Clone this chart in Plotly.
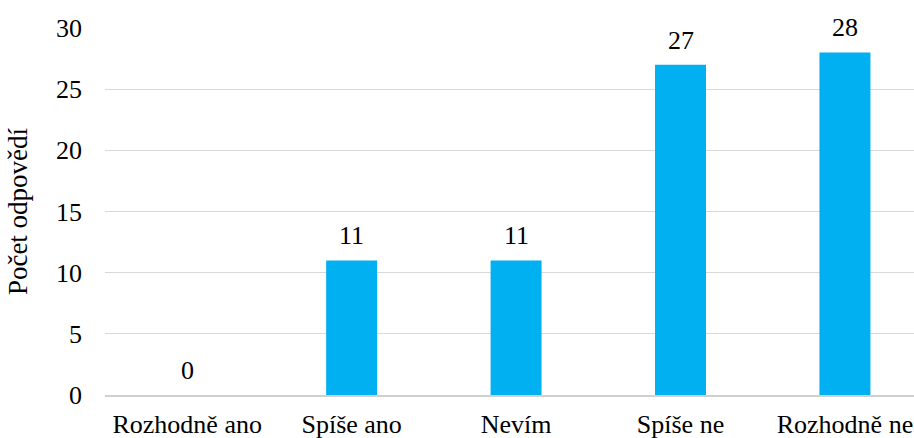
import plotly.graph_objects as go

# Survey answers and counts
categories = ["Rozhodně ano", "Spíše ano", "Nevím", "Spíše ne", "Rozhodně ne"]
counts = [0, 11, 11, 27, 28]
y_ticks = [0, 5, 10, 15, 20, 25, 30]
y_title = "Počet odpovědí"

FONT = "Times New Roman, Liberation Serif, serif"
BAR_COLOR = "#00B0F0"

fig = go.Figure(
    go.Bar(
        x=list(range(len(categories))),
        y=counts,
        width=0.31,
        marker=dict(color=BAR_COLOR, line=dict(width=0)),
        hoverinfo="skip",
    )
)

# Value labels above each bar
for i, v in enumerate(counts):
    fig.add_annotation(
        x=i, y=v, text=str(v), showarrow=False,
        yanchor="bottom", yshift=8,
        font=dict(family=FONT, size=26, color="#000000"),
    )

fig.update_layout(
    width=914,
    height=438,
    margin=dict(l=105, r=0, t=28, b=43),
    paper_bgcolor="white",
    plot_bgcolor="white",
    showlegend=False,
    font=dict(family=FONT, size=26, color="#000000"),
    xaxis=dict(
        tickmode="array",
        tickvals=list(range(len(categories))),
        ticktext=categories,
        range=[-0.5, 4.42],
        showgrid=False,
        zeroline=False,
        showline=True,
        linecolor="#d0d0d0",
        linewidth=2,
        ticks="",
        ticklabelstandoff=5,
        tickfont=dict(family=FONT, size=26, color="#000000"),
        fixedrange=True,
    ),
    yaxis=dict(
        range=[0, 30],
        tickmode="array",
        tickvals=y_ticks,
        showgrid=True,
        gridcolor="#d9d9d9",
        gridwidth=1,
        zeroline=False,
        showline=False,
        ticks="",
        ticklabelstandoff=22,
        tickfont=dict(family=FONT, size=26, color="#000000"),
        title=dict(text=y_title, standoff=20,
                   font=dict(family=FONT, size=27, color="#000000")),
        fixedrange=True,
    ),
)

fig.write_html("out.html")
